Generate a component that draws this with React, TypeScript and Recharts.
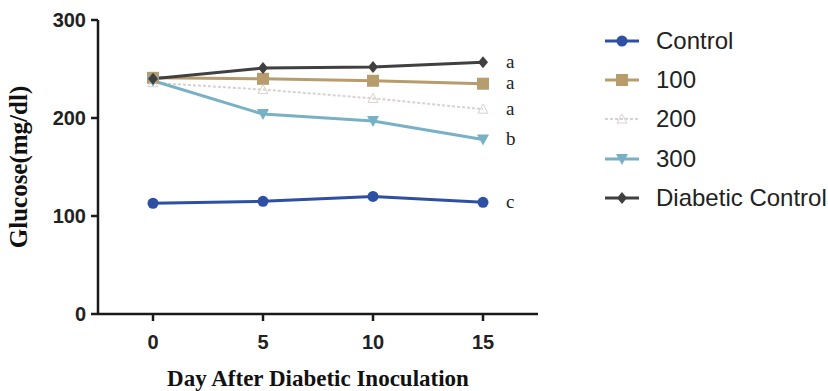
import { LineChart, Line, XAxis, YAxis } from "recharts";

const days = [0, 5, 10, 15];
const control = [113, 115, 120, 114];
const dose100 = [241, 240, 238, 235];
const dose200 = [236, 229, 220, 209];
const dose300 = [238, 204, 197, 178];
const diabeticControl = [240, 251, 252, 257];
const yTicks = [0, 100, 200, 300];

const chartData = days.map((d, i) => ({
  day: d,
  control: control[i],
  d100: dose100[i],
  d200: dose200[i],
  d300: dose300[i],
  diabetic: diabeticControl[i],
}));

type Shape = "circle" | "square" | "triUp" | "triDown" | "diamond";

const series: { key: string; name: string; color: string; shape: Shape; letter: string; width: number; dash?: string }[] = [
  { key: "control", name: "Control", color: "#2e50a2", shape: "circle", letter: "c", width: 3 },
  { key: "d100", name: "100", color: "#b79c6e", shape: "square", letter: "a", width: 3 },
  { key: "d200", name: "200", color: "#d9d0d0", shape: "triUp", letter: "a", width: 2, dash: "3 2" },
  { key: "d300", name: "300", color: "#78b1c5", shape: "triDown", letter: "b", width: 3 },
  { key: "diabetic", name: "Diabetic Control", color: "#404040", shape: "diamond", letter: "a", width: 3 },
];

function Marker({ cx, cy, shape, color }: { cx: number; cy: number; shape: Shape; color: string }) {
  if (shape === "circle") return <circle cx={cx} cy={cy} r={5.5} fill={color} />;
  if (shape === "square") return <rect x={cx - 6} y={cy - 6} width={12} height={12} fill={color} />;
  if (shape === "triUp")
    return <path d={`M${cx},${cy - 5} L${cx + 5},${cy + 4} L${cx - 5},${cy + 4} Z`} fill="none" stroke={color} strokeWidth={1} />;
  if (shape === "triDown")
    return <path d={`M${cx - 6},${cy - 5} L${cx + 6},${cy - 5} L${cx},${cy + 6} Z`} fill={color} />;
  return <path d={`M${cx},${cy - 6} L${cx + 5},${cy} L${cx},${cy + 6} L${cx - 5},${cy} Z`} fill={color} />;
}

export default function App() {
  return (
    <div style={{ position: "absolute", left: 0, top: 0, width: 828, height: 391, background: "#fff" }}>
      <LineChart width={828} height={391} data={chartData} margin={{ top: 20, right: 290, bottom: 0, left: 0 }}>
        <XAxis
          dataKey="day"
          type="number"
          domain={[-2.5, 17.5]}
          ticks={days}
          height={77}
          tickSize={7}
          tickMargin={14}
          stroke="#1a1a1a"
          strokeWidth={2.5}
          tick={{ fill: "#222", fontFamily: "Liberation Sans, Arial", fontWeight: 700, fontSize: 20 }}
          label={{
            value: "Day After Diabetic Inoculation",
            position: "insideBottom",
            offset: 5,
            style: { fill: "#111", fontFamily: "Liberation Serif, Times New Roman", fontWeight: 700, fontSize: 23 },
          }}
        />
        <YAxis
          domain={[0, 300]}
          ticks={yTicks}
          width={98}
          tickSize={7}
          tickMargin={5}
          stroke="#1a1a1a"
          strokeWidth={2.5}
          tick={{ fill: "#222", fontFamily: "Liberation Sans, Arial", fontWeight: 700, fontSize: 20 }}
          label={{
            value: "Glucose(mg/dl)",
            angle: -90,
            position: "insideLeft",
            offset: 18,
            style: { textAnchor: "middle", fill: "#111", fontFamily: "Liberation Serif, Times New Roman", fontWeight: 700, fontSize: 25 },
          }}
        />
        {series.map((s) => (
          <Line
            key={s.key}
            dataKey={s.key}
            name={s.name}
            stroke={s.color}
            strokeWidth={s.width}
            strokeDasharray={s.dash}
            isAnimationActive={false}
            dot={(p: any) => <Marker key={`${s.key}-${p.index}`} cx={p.cx} cy={p.cy} shape={s.shape} color={s.color} />}
            label={(p: any) =>
              p.index === days.length - 1 ? (
                <text
                  key={`${s.key}-lab`}
                  x={p.x + 23}
                  y={p.y}
                  dy="0.3em"
                  fill="#222"
                  fontFamily="Liberation Serif, Times New Roman"
                  fontSize={19}
                >
                  {s.letter}
                </text>
              ) : (
                <g key={`${s.key}-l${p.index}`} />
              )
            }
          />
        ))}
      </LineChart>
      <div style={{ position: "absolute", left: 605, top: 21 }}>
        {series.map((s) => (
          <div key={s.key} style={{ display: "flex", alignItems: "center", height: 39.3 }}>
            <svg width={34} height={20} style={{ display: "block" }}>
              <line x1={0} y1={10} x2={34} y2={10} stroke={s.color} strokeWidth={s.width} strokeDasharray={s.dash} />
              <Marker cx={17} cy={10} shape={s.shape} color={s.color} />
            </svg>
            <span
              style={{
                marginLeft: 17,
                fontFamily: "Liberation Sans, Arial",
                fontSize: 24,
                color: "#222",
                lineHeight: "20px",
                whiteSpace: "nowrap",
              }}
            >
              {s.name}
            </span>
          </div>
        ))}
      </div>
    </div>
  );
}
